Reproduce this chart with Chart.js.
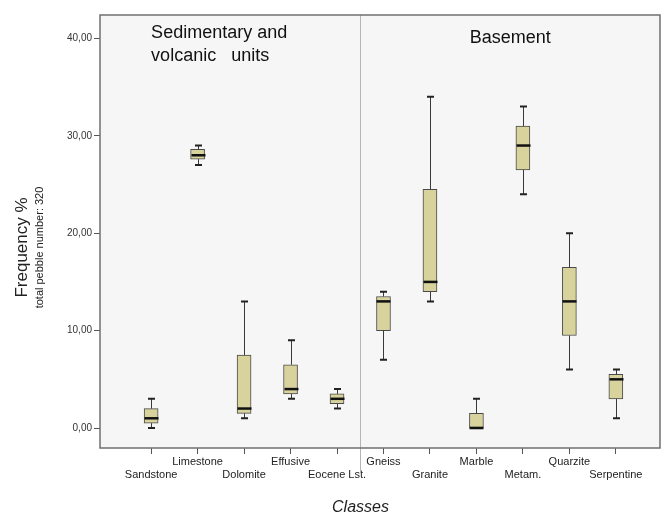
<!DOCTYPE html>
<html>
<head>
<meta charset="utf-8">
<script src="https://cdn.jsdelivr.net/npm/chart.js@4/dist/chart.umd.min.js"></script>
<style>
  html,body{margin:0;padding:0;background:#fff;}
  #wrap{width:665px;height:518px;}
</style>
</head>
<body>
<div id="wrap"><canvas id="chart" width="665" height="518"></canvas></div>
<script>
// box plot values (frequency %)
var categories = ["Sandstone","Limestone","Dolomite","Effusive","Eocene Lst.","Gneiss","Granite","Marble","Metam.","Quarzite","Serpentine"];
var mins    = [0,   27,   1,   3,   2,   7,    13,   0,   24,   6,    1];
var q1s     = [0.5, 27.6, 1.5, 3.5, 2.5, 10,   14,   0,   26.5, 9.5,  3];
var medians = [1,   28,   2,   4,   3,   13,   15,   0,   29,   13,   5];
var q3s     = [2,   28.6, 7.5, 6.5, 3.5, 13.5, 24.5, 1.5, 31,   16.5, 5.5];
var maxs    = [3,   29,   13,  9,   4,   14,   34,   3,   33,   20,   6];
var yTicks  = [0, 10, 20, 30, 40];
var groupSplit = 4.5; // between Eocene Lst. and Gneiss

var FONT = "'Liberation Sans', Arial, sans-serif";
var BOX_FILL = "#d8d39d";

function fmt(v){ return v.toFixed(2).replace(".", ","); }

var boxData = categories.map(function(c, i){ return {x:i, y:[q1s[i], q3s[i]]}; });

// background, frame, whiskers, medians and the extra labels
var boxPlugin = {
  id: "boxExtras",
  beforeDraw: function(chart){
    var ctx = chart.ctx, a = chart.chartArea;
    ctx.save();
    ctx.fillStyle = "#fff";
    ctx.fillRect(0, 0, chart.width, chart.height);
    ctx.fillStyle = "#f6f6f6";
    ctx.fillRect(a.left, a.top, a.right - a.left, a.bottom - a.top);
    ctx.restore();
  },
  afterDatasetsDraw: function(chart){
    var ctx = chart.ctx, xs = chart.scales.x, ys = chart.scales.y;
    ctx.save();
    for (var i = 0; i < categories.length; i++){
      var x = Math.round(xs.getPixelForValue(i)) + 0.5;
      var yMin = ys.getPixelForValue(mins[i]), yQ1 = ys.getPixelForValue(q1s[i]);
      var yQ3 = ys.getPixelForValue(q3s[i]), yMax = ys.getPixelForValue(maxs[i]);
      var yMed = ys.getPixelForValue(medians[i]);
      ctx.strokeStyle = "#3a3a3a";
      ctx.lineWidth = 1;
      ctx.beginPath();
      ctx.moveTo(x, yMin); ctx.lineTo(x, yQ1);
      ctx.moveTo(x, yQ3); ctx.lineTo(x, yMax);
      ctx.stroke();
      ctx.lineWidth = 2;
      ctx.strokeStyle = "#222";
      ctx.beginPath();
      ctx.moveTo(x - 3.5, yMin); ctx.lineTo(x + 3.5, yMin);
      ctx.moveTo(x - 3.5, yMax); ctx.lineTo(x + 3.5, yMax);
      ctx.stroke();
      ctx.lineWidth = 2.5;
      ctx.strokeStyle = "#111";
      ctx.beginPath();
      ctx.moveTo(x - 7, yMed); ctx.lineTo(x + 7, yMed);
      ctx.stroke();
    }
    ctx.restore();
  },
  afterDraw: function(chart){
    var ctx = chart.ctx, a = chart.chartArea, xs = chart.scales.x;
    ctx.save();
    // group divider runs a bit below the axis
    var xd = Math.round(xs.getPixelForValue(groupSplit)) + 0.5;
    ctx.strokeStyle = "#b5b5b5";
    ctx.lineWidth = 1;
    ctx.beginPath();
    ctx.moveTo(xd, a.top); ctx.lineTo(xd, a.bottom + 25);
    ctx.stroke();
    // frame
    ctx.strokeStyle = "#707070";
    ctx.lineWidth = 1.5;
    ctx.strokeRect(a.left, a.top, a.right - a.left, a.bottom - a.top);
    // group headings
    ctx.fillStyle = "#111";
    ctx.font = "18px " + FONT;
    ctx.textBaseline = "middle";
    ctx.textAlign = "left";
    var x0 = xs.getPixelForValue(0);
    ctx.fillText("Sedimentary and", x0, a.top + 18);
    ctx.fillText("volcanic   units", x0, a.top + 41);
    ctx.textAlign = "center";
    ctx.fillText("Basement", (xd + a.right) / 2, a.top + 23);
    // axis titles
    ctx.fillStyle = "#222";
    ctx.font = "italic 16px " + FONT;
    ctx.fillText("Classes", xd, chart.height - 10);
    ctx.translate(0, (a.top + a.bottom) / 2 + 16);
    ctx.rotate(-Math.PI / 2);
    ctx.font = "17px " + FONT;
    ctx.fillText("Frequency %", 0, 22);
    ctx.font = "11px " + FONT;
    ctx.fillText("total pebble number: 320", 0, 40);
    ctx.restore();
  }
};

new Chart(document.getElementById("chart"), {
  type: "bar",
  data: {
    datasets: [{
      data: boxData,
      backgroundColor: BOX_FILL,
      borderColor: "#4a4a4a",
      borderWidth: 1,
      borderSkipped: false,
      barThickness: 14
    }]
  },
  options: {
    responsive: false,
    animation: false,
    layout: { padding: { top: 15, right: 5, left: 0, bottom: 0 } },
    plugins: { legend: { display: false }, tooltip: { enabled: false } },
    scales: {
      x: {
        type: "linear",
        min: -1.1,
        max: 10.95,
        offset: false,
        border: { display: false },
        grid: { offset: false, drawOnChartArea: false, drawTicks: true, tickLength: 6, tickColor: "#555" },
        afterBuildTicks: function(scale){
          scale.ticks = categories.map(function(c, i){ return {value:i}; });
        },
        afterFit: function(scale){ scale.height = 70; },
        ticks: {
          autoSkip: false,
          maxRotation: 0,
          padding: 2,
          color: "#222",
          font: { family: FONT, size: 11, lineHeight: 1.15 },
          callback: function(v){
            var name = categories[v];
            return (v % 2 === 0) ? ["", name] : [name];
          }
        }
      },
      y: {
        min: -2.05,
        max: 42.4,
        border: { display: false },
        grid: { drawOnChartArea: false, drawTicks: true, tickLength: 6, tickColor: "#555" },
        afterBuildTicks: function(scale){
          scale.ticks = yTicks.map(function(v){ return {value:v}; });
        },
        afterFit: function(scale){ scale.width = 100; },
        ticks: {
          padding: 2,
          color: "#333",
          font: { family: FONT, size: 10 },
          callback: function(v){ return fmt(v); }
        }
      }
    }
  },
  plugins: [boxPlugin]
});
</script>
</body>
</html>
